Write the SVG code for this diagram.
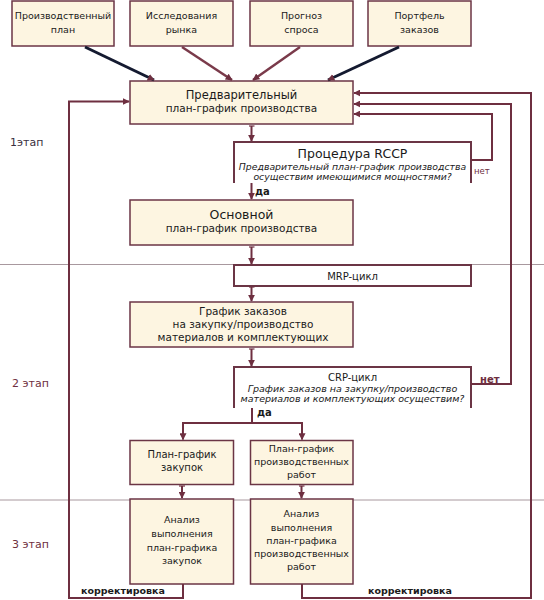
<svg xmlns="http://www.w3.org/2000/svg" width="544" height="600" viewBox="0 0 544 600">
<defs>
<style>
.box{fill:#fdf5e1;stroke:#6b3545;stroke-width:1.5}
.wbox{fill:#ffffff;stroke:#6b3545;stroke-width:2}
.t{font-family:"DejaVu Sans",sans-serif;fill:#1a1a1a;text-anchor:middle}
.i{font-family:"DejaVu Sans",sans-serif;fill:#1a1a1a;text-anchor:middle;font-style:italic}
.c{fill:none;stroke:#6e2f40;stroke-width:2}
.lab{font-family:"DejaVu Sans",sans-serif;fill:#6e2f40}
.sep{stroke:#a8989e;stroke-width:1}
</style>
<marker id="ah" viewBox="0 0 10 10" refX="9" refY="5" markerWidth="7" markerHeight="7" markerUnits="userSpaceOnUse" orient="auto">
<path d="M0,0 L10,5 L0,10 z" fill="#6e2f40"/>
</marker>
<marker id="tick" viewBox="0 0 10 10" refX="5" refY="5" markerWidth="6" markerHeight="6" markerUnits="userSpaceOnUse" orient="auto">
<path d="M5,0 L5,10" stroke="#6e2f40" stroke-width="2"/>
</marker>
</defs>
<rect width="544" height="600" fill="#ffffff"/>
<line class="sep" x1="0" y1="264.5" x2="544" y2="264.5"/>
<line class="sep" x1="0" y1="500" x2="544" y2="500"/>

<g id="n-prodplan"><rect class="box" x="12" y="1" width="102" height="45"/>
<text class="t" font-size="9.5" x="63" y="19">Производственный</text><text class="t" font-size="9.5" x="63" y="33">план</text></g>
<g id="n-market"><rect class="box" x="130" y="1" width="103" height="45"/>
<text class="t" font-size="9.5" x="181.5" y="19">Исследования</text><text class="t" font-size="9.5" x="181.5" y="33">рынка</text></g>
<g id="n-forecast"><rect class="box" x="250" y="1" width="103" height="45"/>
<text class="t" font-size="9.5" x="301.5" y="19">Прогноз</text><text class="t" font-size="9.5" x="301.5" y="33">спроса</text></g>
<g id="n-portfolio"><rect class="box" x="368" y="1" width="103" height="45"/>
<text class="t" font-size="9.5" x="419.5" y="19">Портфель</text><text class="t" font-size="9.5" x="419.5" y="33">заказов</text></g>

<g id="n-prelim"><rect class="box" x="130" y="81" width="223" height="43"/>
<text class="t" font-size="11.5" x="241.5" y="99">Предварительный</text><text class="t" font-size="10.5" x="241.5" y="112">план-график производства</text></g>

<g id="n-rccp"><path class="wbox" d="M234,183 V142 H471 V183"/>
<text class="t" font-size="12.5" x="352.5" y="158">Процедура RCCP</text>
<text class="i" font-size="9.3" x="352.5" y="170">Предварительный план-график производства</text>
<text class="i" font-size="9.3" x="352.5" y="180">осуществим имеющимися мощностями?</text></g>

<g id="n-master"><rect class="box" x="130" y="200" width="223" height="45"/>
<text class="t" font-size="12.5" x="241.5" y="219">Основной</text><text class="t" font-size="10.5" x="241.5" y="232">план-график производства</text></g>

<g id="n-mrp"><rect class="wbox" x="234" y="265" width="237" height="21"/>
<text class="t" font-size="10" x="352.5" y="280">MRP-цикл</text></g>

<g id="n-orders"><rect class="box" x="130" y="302" width="223" height="45"/>
<text class="t" font-size="10.5" x="243" y="315">График заказов</text><text class="t" font-size="10.5" x="243" y="327.5">на закупку/производство</text><text class="t" font-size="10.5" x="243" y="340.5">материалов и комплектующих</text></g>

<g id="n-crp"><path class="wbox" d="M234,408 V367 H471 V408"/>
<text class="t" font-size="10" x="352.5" y="381">CRP-цикл</text>
<text class="i" font-size="9.5" x="352.5" y="392">График заказов на закупку/производство</text>
<text class="i" font-size="9.5" x="352.5" y="402">материалов и комплектующих осуществим?</text></g>

<g id="n-purch"><rect class="box" x="130" y="440.5" width="103.5" height="44"/>
<text class="t" font-size="10" x="182" y="458">План-график</text><text class="t" font-size="10" x="182" y="471">закупок</text></g>
<g id="n-works"><rect class="box" x="250.5" y="440.5" width="102.5" height="44"/>
<text class="t" font-size="9.5" x="301.5" y="452">План-график</text><text class="t" font-size="9.5" x="301.5" y="465">производственных</text><text class="t" font-size="9.5" x="301.5" y="478">работ</text></g>

<g id="n-an1"><rect class="box" x="130" y="499" width="103.5" height="85"/>
<text class="t" font-size="9.5" x="182" y="523">Анализ</text><text class="t" font-size="9.5" x="182" y="537">выполнения</text><text class="t" font-size="9.5" x="182" y="551">план-графика</text><text class="t" font-size="9.5" x="182" y="564">закупок</text></g>
<g id="n-an2"><rect class="box" x="250.5" y="499" width="102.5" height="85"/>
<text class="t" font-size="9.5" x="301.5" y="517">Анализ</text><text class="t" font-size="9.5" x="301.5" y="531">выполнения</text><text class="t" font-size="9.5" x="301.5" y="544">план-графика</text><text class="t" font-size="9.5" x="301.5" y="557">производственных</text><text class="t" font-size="9.5" x="301.5" y="570">работ</text></g>

<g id="stages">
<text class="lab" font-size="11" x="10" y="146" style="fill:#3a3040">1этап</text>
<text class="lab" font-size="11" x="12" y="387">2 этап</text>
<text class="lab" font-size="11" x="12" y="548">3 этап</text>
</g>

<g id="connectors">
<line x1="85" y1="47" x2="154" y2="80" stroke="#141a30" stroke-width="3" marker-end="url(#ah)"/>
<line x1="182" y1="47" x2="232" y2="80" stroke="#7a3a4a" stroke-width="2.5" marker-end="url(#ah)"/>
<line x1="300" y1="47" x2="253" y2="80" stroke="#7a3a4a" stroke-width="2.5" marker-end="url(#ah)"/>
<line x1="399" y1="47" x2="328" y2="80" stroke="#141a30" stroke-width="3" marker-end="url(#ah)"/>

<line class="c" x1="251.5" y1="126" x2="251.5" y2="141" stroke-width="1.5" marker-start="url(#tick)" marker-end="url(#ah)"/>
<line class="c" x1="251.5" y1="183" x2="251.5" y2="199" stroke-width="1.5" marker-end="url(#ah)"/>
<line class="c" x1="251.5" y1="247" x2="251.5" y2="264" stroke-width="1.5" marker-start="url(#tick)" marker-end="url(#ah)"/>
<line class="c" x1="251.5" y1="287" x2="251.5" y2="301" stroke-width="1.5" marker-start="url(#tick)" marker-end="url(#ah)"/>
<line class="c" x1="251.5" y1="349" x2="251.5" y2="366" stroke-width="1.5" marker-start="url(#tick)" marker-end="url(#ah)"/>

<path class="c" d="M252,408 V423 H183 V439.5" marker-end="url(#ah)"/>
<path class="c" d="M252,423 H302 V439.5" marker-end="url(#ah)"/>
<line class="c" x1="182" y1="486" x2="182" y2="498" stroke-width="1.5" marker-start="url(#tick)" marker-end="url(#ah)"/>
<line class="c" x1="301.5" y1="486" x2="301.5" y2="498" stroke-width="1.5" marker-start="url(#tick)" marker-end="url(#ah)"/>

<path class="c" d="M471,160 H492 V114 H354" marker-end="url(#ah)"/>
<path class="c" d="M471,384 H511 V104 H354" marker-end="url(#ah)"/>
<path class="c" d="M302,584 V598 H531 V93 H354" marker-end="url(#ah)"/>
<path class="c" d="M183,584 V598 H69 V101.5 H129" marker-end="url(#ah)"/>

<text class="t" font-size="10" font-weight="bold" x="255" y="195" style="text-anchor:start">да</text>
<text class="t" font-size="10" font-weight="bold" x="257" y="416" style="text-anchor:start">да</text>
<text font-family="DejaVu Sans,sans-serif" font-size="8.5" x="474" y="174" fill="#6e2f40">нет</text>
<text font-family="DejaVu Sans,sans-serif" font-size="10" font-weight="bold" x="480" y="383" fill="#6e2f40">нет</text>
<text font-family="DejaVu Sans,sans-serif" font-size="9.5" font-weight="bold" x="81" y="594" fill="#1a1a1a">корректировка</text>
<text font-family="DejaVu Sans,sans-serif" font-size="9.5" font-weight="bold" x="368" y="594" fill="#1a1a1a">корректировка</text>
</g>
</svg>
